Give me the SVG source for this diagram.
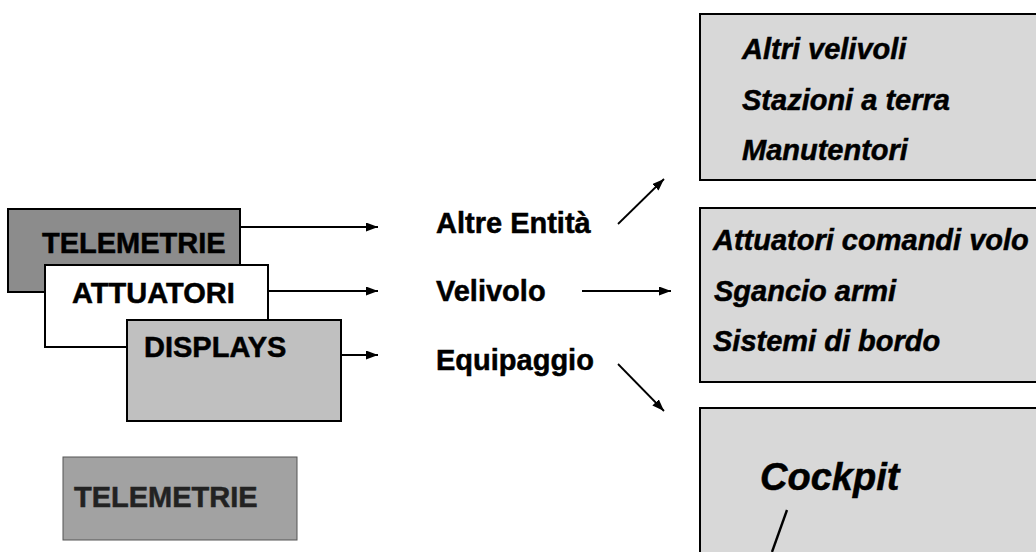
<svg xmlns="http://www.w3.org/2000/svg" width="1036" height="552" viewBox="0 0 1036 552">
  <style>
    .box { stroke: #000; stroke-width: 2; }
    .lbl { font-family: "Liberation Sans", Arial, sans-serif; font-weight: bold; font-size: 29px; fill: #000; stroke: #000; stroke-width: 0.5; }
    .it { font-family: "Liberation Sans", Arial, sans-serif; font-weight: bold; font-style: italic; font-size: 29px; fill: #000; stroke: #000; stroke-width: 0.5; }
    .conn { stroke: #000; stroke-width: 1.8; fill: none; }
  </style>
  <defs>
    <marker id="arr" viewBox="0 0 12 9" refX="12" refY="4.5" markerWidth="12" markerHeight="9" markerUnits="userSpaceOnUse" orient="auto">
      <path d="M0,0 L12,4.5 L0,9 Z" fill="#000"/>
    </marker>
  </defs>
  <rect width="1036" height="552" fill="#ffffff"/>

  <g id="node-telemetrie">
    <rect class="box" x="8" y="209" width="232" height="83" fill="#8c8c8c"/>
    <text class="lbl" x="42" y="253">TELEMETRIE</text>
  </g>
  <g id="node-attuatori">
    <rect class="box" x="45" y="265" width="223" height="82" fill="#ffffff"/>
    <text class="lbl" x="72" y="303">ATTUATORI</text>
  </g>
  <g id="node-displays">
    <rect class="box" x="127" y="320" width="214" height="101" fill="#c0c0c0"/>
    <text class="lbl" x="144" y="357">DISPLAYS</text>
  </g>
  <g id="node-telemetrie-2">
    <rect x="63" y="457" width="234" height="83" fill="#a2a2a2" stroke="#555" stroke-width="1"/>
    <text class="lbl" x="74" y="507" style="fill:#222;stroke:#222">TELEMETRIE</text>
  </g>

  <g id="label-altre">
    <text class="lbl" x="436" y="233">Altre Entità</text>
  </g>
  <g id="label-velivolo">
    <text class="lbl" x="436" y="301">Velivolo</text>
  </g>
  <g id="label-equipaggio">
    <text class="lbl" x="436" y="370">Equipaggio</text>
  </g>

  <g id="node-altri">
    <rect class="box" x="700" y="14" width="345" height="166" fill="#d8d8d8"/>
    <text class="it" x="742" y="59">Altri velivoli</text>
    <text class="it" x="742" y="110">Stazioni a terra</text>
    <text class="it" x="742" y="160">Manutentori</text>
  </g>
  <g id="node-velivolo">
    <rect class="box" x="700" y="208" width="345" height="174" fill="#d8d8d8"/>
    <text class="it" x="713" y="250">Attuatori comandi volo</text>
    <text class="it" x="714" y="301">Sgancio armi</text>
    <text class="it" x="713" y="351">Sistemi di bordo</text>
  </g>
  <g id="node-cockpit">
    <rect class="box" x="700" y="408" width="345" height="160" fill="#d8d8d8"/>
    <text class="it" x="760" y="490" style="font-size:38px">Cockpit</text>
    <path d="M787,510 L772,552" stroke="#000" stroke-width="2.4" fill="none"/>
  </g>

  <g id="connectors">
    <path class="conn" d="M240,227 L378,227" marker-end="url(#arr)"/>
    <path class="conn" d="M268,291 L378,291" marker-end="url(#arr)"/>
    <path class="conn" d="M341,355 L378,355" marker-end="url(#arr)"/>
    <path class="conn" d="M618,224 L664,179" marker-end="url(#arr)"/>
    <path class="conn" d="M582,291 L671,291" marker-end="url(#arr)"/>
    <path class="conn" d="M618,364 L664,411" marker-end="url(#arr)"/>
  </g>
</svg>
